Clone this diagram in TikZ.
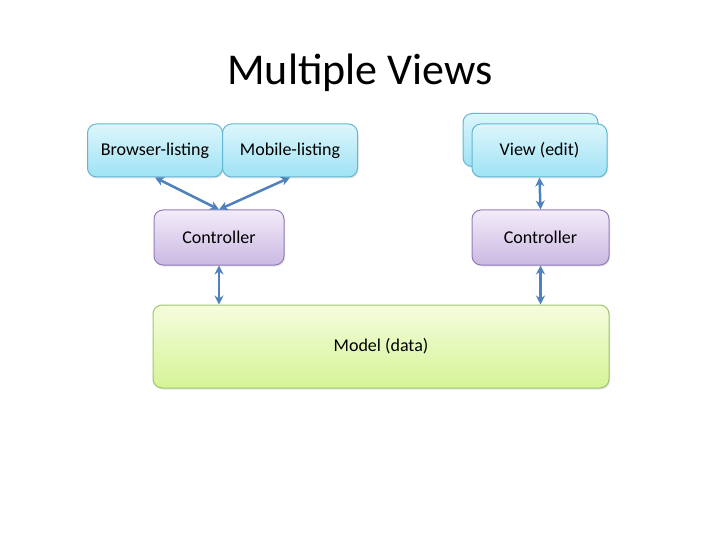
\documentclass[tikz,border=0pt]{standalone}
\usepackage{fontspec}
\setmainfont{Carlito}
\usetikzlibrary{arrows.meta,shadows}

\definecolor{viewtop}{HTML}{DDF6FC}
\definecolor{viewbot}{HTML}{9EE2F4}
\definecolor{viewline}{HTML}{62B7D2}
\definecolor{ctrltop}{HTML}{F3ECF9}
\definecolor{ctrlbot}{HTML}{CBB8E2}
\definecolor{ctrlline}{HTML}{927CB8}
\definecolor{modeltop}{HTML}{F5FCDD}
\definecolor{modelbot}{HTML}{D5F496}
\definecolor{modelline}{HTML}{A0C46E}
\definecolor{linkcol}{HTML}{4F81BD}

\begin{document}
\begin{tikzpicture}[x=1pt,y=-1pt,
		box/.style={draw,line width=1pt,rounded corners=9pt,font=\fontsize{18}{22}\selectfont,
			drop shadow={opacity=.2,shadow xshift=1pt,shadow yshift=-1.5pt}},
		viewbox/.style={box,draw=viewline,top color=viewtop,bottom color=viewbot,
			minimum width=135pt,minimum height=53pt},
		ctrlbox/.style={box,draw=ctrlline,top color=ctrltop,bottom color=ctrlbot,
			minimum width=130pt,minimum height=55pt},
		modelbox/.style={box,draw=modelline,top color=modeltop,bottom color=modelbot,
			minimum width=456pt,minimum height=83pt},
		link/.style={linkcol,line width=2.5pt,{Stealth[length=9pt,width=9pt]}-{Stealth[length=9pt,width=9pt]}}]
		\useasboundingbox (0,0) rectangle (720,540);
		\node[font=\fontsize{44}{52}\selectfont] (title) at (360,73) {Multiple Views};
		% left side: two views share a controller
		\node[viewbox] (bl) at (155,150.5) {Browser-listing};
		\node[viewbox] (ml) at (290,150.5) {Mobile-listing};
		\node[ctrlbox] (cl) at (219,237.5) {Controller};
		% right side
		\node[viewbox] (vb) at (530.5,140) {};
		\node[viewbox] (ve) at (539.5,150.5) {View (edit)};
		\node[ctrlbox,minimum width=137pt] (cr) at (540.5,237.5) {Controller};
		\node[modelbox] (md) at (381,346.5) {Model (data)};
		\draw[link] (bl.south) -- (cl.north);
		\draw[link] (ml.south) -- (cl.north);
		\draw[link] (ve.south) -- (cr.north);
		\draw[link] (cl.south) -- (cl.south |- md.north);
		\draw[link] (cr.south) -- (cr.south |- md.north);
	\end{tikzpicture}
\end{document}
